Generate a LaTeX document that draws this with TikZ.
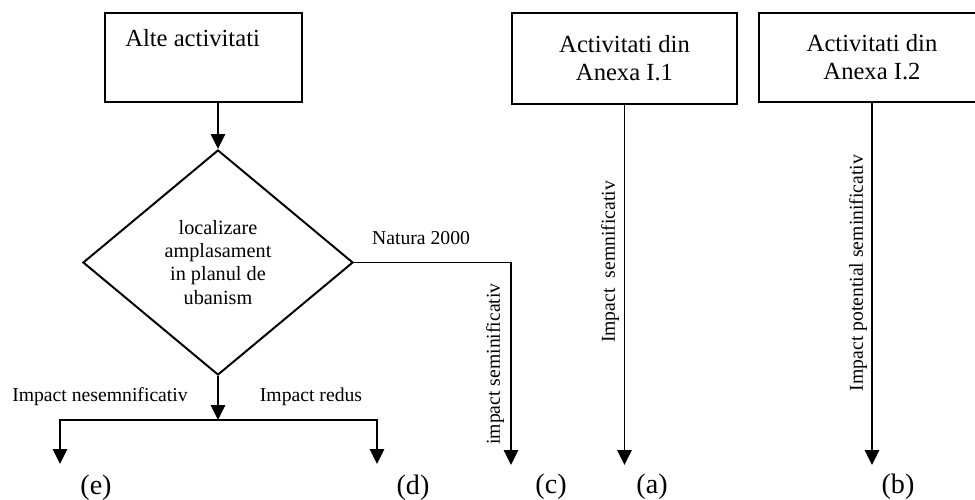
\documentclass[tikz,border=0pt]{standalone}
\usepackage{fontspec}
\setmainfont{Liberation Serif}
\usetikzlibrary{shapes.geometric,arrows.meta}

\tikzstyle{activ} = [rectangle, draw, line width=1.5pt, inner sep=0pt,
    align=center, font=\fontsize{17.5}{20}\selectfont]
\tikzstyle{decizie} = [diamond, draw, line width=1.4pt, inner sep=0pt,
    minimum width=6.75cm, minimum height=5.625cm,
    align=center, font=\fontsize{14.4}{16.4}\selectfont]
\tikzstyle{eticheta} = [inner sep=0pt, font=\fontsize{14}{16}\selectfont]
\tikzstyle{litera} = [inner sep=0pt, font=\fontsize{20}{22}\selectfont]
\tikzstyle{sageata} = [line width=1.4pt, -{Triangle[width=10pt,length=10.5pt]}]

\begin{document}
\begin{tikzpicture}[x=0.025cm, y=-0.025cm]
	\useasboundingbox (0,0) rectangle (975,500);
	\node [activ, minimum width=4.925cm, minimum height=2.225cm] (alte) at (203.5,57.5) {};
	\node [anchor=west, inner sep=0pt, font=\fontsize{17.5}{20}\selectfont] (altetext) at (125,38) {Alte activitati};
	\node [activ, minimum width=5.625cm, minimum height=2.275cm] (anexaa) at (624.5,58.5) {Activitati din\\Anexa I.1};
	\node [activ, minimum width=5.65cm, minimum height=2.225cm] (anexab) at (872,57.5) {Activitati din\\Anexa I.2};
	%
	\node [decizie] (loc) at (218,262.5) {localizare\\amplasament\\in planul de\\ubanism};
	%
	\coordinate (split) at (218,420);
	\coordinate (ende) at (60,464);
	\coordinate (endd) at (377,464);
	\coordinate (endc) at (511,465);
	\coordinate (enda) at (624.5,465);
	\coordinate (endb) at (872,465);
	%
	\draw [sageata] (loc.north |- alte.south) -- (loc.north);
	\draw [sageata] (loc.south) -- (split);
	\draw [sageata] (split) -| (ende);
	\draw [sageata] (split) -| (endd);
	\draw [sageata] (loc.east) -| (endc);
	\draw [sageata] (anexaa.south) -- (enda);
	\draw [sageata] (anexab.south) -- (endb);
	%
	\node [eticheta] (natura) at (421,238) {Natura 2000};
	\node [eticheta] (nesemn) at (100,397) {Impact nesemnificativ};
	\node [eticheta] (redus) at (311,397) {Impact redus};
	\node [eticheta, rotate=90] (semnc) at (495,364) {impact seminificativ};
	\node [eticheta, rotate=90] (semna) at (610,262) {Impact~ semnificativ};
	\node [eticheta, rotate=90] (semnb) at (858,273) {Impact potential seminificativ};
	%
	\node [litera] (le) at (96,488) {(e)};
	\node [litera] (ld) at (413,488) {(d)};
	\node [litera] (lc) at (551,487) {(c)};
	\node [litera] (la) at (652,487) {(a)};
	\node [litera] (lb) at (898,487) {(b)};
\end{tikzpicture}
\end{document}
